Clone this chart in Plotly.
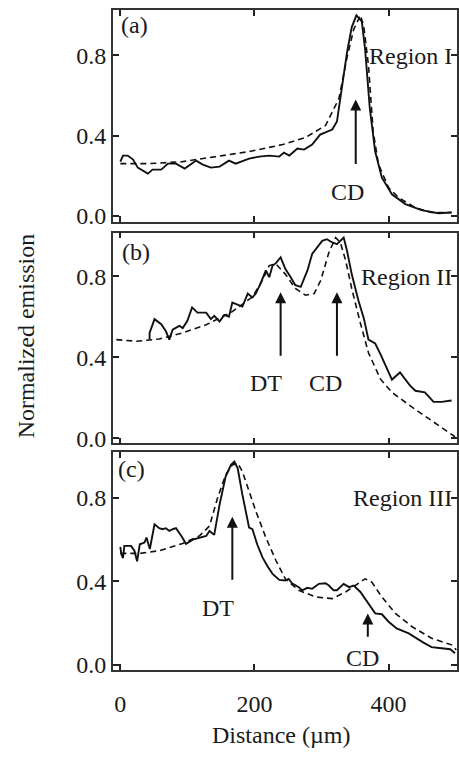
import plotly.graph_objects as go

# ---------------- data ----------------
a_solid_x = [0, 4, 11, 19, 26, 41, 48, 61, 71, 83, 96, 113, 123, 135, 148, 162, 172, 192, 207, 222, 237, 244, 252, 264, 274, 286, 298, 316, 323, 330, 338, 345, 352, 360, 365, 372, 380, 390, 405, 425, 449, 474, 494]
a_solid_y = [0.27, 0.30, 0.30, 0.28, 0.24, 0.21, 0.23, 0.23, 0.26, 0.26, 0.235, 0.275, 0.255, 0.24, 0.245, 0.275, 0.26, 0.285, 0.295, 0.30, 0.295, 0.315, 0.30, 0.335, 0.33, 0.355, 0.405, 0.43, 0.47, 0.625, 0.815, 0.94, 1.0, 0.97, 0.83, 0.535, 0.32, 0.19, 0.107, 0.058, 0.028, 0.012, 0.016]
a_dash_x = [0, 44, 93, 143, 192, 242, 276, 306, 326, 338, 348, 358, 363, 370, 377, 385, 400, 415, 440, 464, 494]
a_dash_y = [0.26, 0.26, 0.27, 0.295, 0.32, 0.355, 0.39, 0.45, 0.585, 0.79, 0.93, 1.0, 0.945, 0.75, 0.42, 0.255, 0.14, 0.09, 0.04, 0.016, 0.016]

b_solid_x = [43.6, 43.6, 51, 61, 68, 73, 78, 88, 93, 100, 107, 115, 128, 135, 140, 148, 155, 162, 167, 175, 182, 190, 197, 202, 209, 217, 222, 227, 232, 239, 246, 254, 261, 269, 274, 279, 286, 293, 301, 308, 316, 323, 328, 333, 338, 345, 355, 363, 370, 380, 388, 398, 405, 417, 425, 432, 440, 447, 454, 459, 467, 479, 494]
b_solid_y = [0.487, 0.52, 0.588, 0.563, 0.528, 0.487, 0.536, 0.555, 0.544, 0.58, 0.646, 0.62, 0.62, 0.588, 0.604, 0.576, 0.609, 0.60, 0.67, 0.66, 0.65, 0.714, 0.695, 0.714, 0.763, 0.828, 0.795, 0.852, 0.864, 0.893, 0.836, 0.795, 0.755, 0.747, 0.787, 0.828, 0.909, 0.94, 0.974, 0.982, 0.966, 0.958, 0.974, 0.99, 0.925, 0.81, 0.68, 0.593, 0.487, 0.468, 0.414, 0.34, 0.29, 0.325, 0.29, 0.26, 0.235, 0.23, 0.227, 0.21, 0.18, 0.18, 0.187]
b_dash_x = [-6, 24, 58, 93, 128, 167, 197, 212, 222, 232, 246, 261, 276, 289, 299, 311, 321, 328, 336, 345, 358, 370, 388, 405, 435, 464, 484, 499]
b_dash_y = [0.487, 0.479, 0.49, 0.52, 0.56, 0.625, 0.698, 0.78, 0.852, 0.86, 0.81, 0.739, 0.706, 0.714, 0.78, 0.917, 0.99, 0.966, 0.877, 0.739, 0.568, 0.422, 0.292, 0.227, 0.154, 0.089, 0.04, 0.008]

c_solid_x = [0, 1.5, 4, 6, 16, 21, 25, 29, 36, 39, 44, 51, 58, 63, 68, 73, 78, 83, 91, 98, 108, 118, 128, 133, 140, 148, 157, 165, 170, 175, 182, 192, 197, 204, 212, 219, 227, 237, 246, 251, 256, 266, 271, 279, 286, 296, 306, 311, 318, 323, 333, 341, 348, 358, 370, 380, 390, 400, 412, 430, 452, 464, 479, 492, 499]
c_solid_y = [0.566, 0.53, 0.512, 0.57, 0.57, 0.547, 0.496, 0.578, 0.586, 0.61, 0.555, 0.674, 0.655, 0.65, 0.655, 0.642, 0.65, 0.655, 0.618, 0.58, 0.60, 0.61, 0.618, 0.642, 0.623, 0.769, 0.903, 0.959, 0.975, 0.943, 0.816, 0.658, 0.65, 0.578, 0.515, 0.475, 0.436, 0.407, 0.404, 0.412, 0.391, 0.372, 0.357, 0.369, 0.364, 0.388, 0.391, 0.38, 0.357, 0.357, 0.388, 0.372, 0.38, 0.349, 0.293, 0.246, 0.242, 0.206, 0.174, 0.15, 0.106, 0.084, 0.079, 0.074, 0.055]
c_dash_x = [0, 29, 58, 93, 118, 133, 145, 157, 167, 175, 182, 192, 202, 217, 232, 246, 266, 291, 316, 336, 353, 365, 375, 390, 410, 435, 464, 494, 501]
c_dash_y = [0.534, 0.534, 0.547, 0.582, 0.618, 0.666, 0.80, 0.911, 0.959, 0.967, 0.927, 0.832, 0.737, 0.61, 0.50, 0.412, 0.357, 0.325, 0.317, 0.349, 0.388, 0.412, 0.396, 0.325, 0.246, 0.182, 0.127, 0.095, 0.071]

x_ticks = [0, 200, 400]
y_ticks = [0.0, 0.4, 0.8]
panel_labels = ["(a)", "(b)", "(c)"]
region_labels = ["Region I", "Region II", "Region III"]
# arrows: (panel, label, x, head_y, tail_y, label_x, label_y)
arrows = [
    (1, "CD", 351, 0.58, 0.25, 338, 0.12),
    (2, "DT", 239, 0.72, 0.40, 217, 0.275),
    (2, "CD", 323, 0.72, 0.40, 306, 0.275),
    (3, "DT", 167, 0.71, 0.40, 145, 0.27),
    (3, "CD", 369, 0.246, 0.127, 361, 0.032),
]

# ---------------- figure ----------------
W, H = 459, 759
FONT = "Liberation Serif, Times New Roman, serif"
TXT = "#1a1a1a"
FS = 24

fig = go.Figure()
panels = [
    (a_solid_x, a_solid_y, a_dash_x, a_dash_y),
    (b_solid_x, b_solid_y, b_dash_x, b_dash_y),
    (c_solid_x, c_solid_y, c_dash_x, c_dash_y),
]
for i, (sx, sy, dx, dy) in enumerate(panels, start=1):
    xa = "x" if i == 1 else f"x{i}"
    ya = "y" if i == 1 else f"y{i}"
    fig.add_trace(go.Scatter(x=dx, y=dy, mode="lines", xaxis=xa, yaxis=ya,
                             line=dict(color="#111111", width=1.6, dash="6px,4px"),
                             showlegend=False, hoverinfo="skip"))
    fig.add_trace(go.Scatter(x=sx, y=sy, mode="lines", xaxis=xa, yaxis=ya,
                             line=dict(color="#111111", width=1.9),
                             showlegend=False, hoverinfo="skip"))

def py(p):
    return 1 - p / H

ydomains = [(py(224), py(10)), (py(448), py(235)), (py(677), py(457))]
yranges = [(-0.0296, 1.027), (-0.024, 1.015), (-0.025, 1.02)]
xdomain = (113 / W, 458 / W)
xrange_ = (-11.3, 502)

axis_common = dict(showline=True, linecolor="#333333", linewidth=1.5, mirror="ticks",
                   ticks="inside", ticklen=6, tickwidth=1.5, tickcolor="#222222",
                   showgrid=False, zeroline=False,
                   tickfont=dict(family=FONT, size=FS, color=TXT))

layout = dict(width=W, height=H, margin=dict(l=0, r=0, t=0, b=0),
              paper_bgcolor="white", plot_bgcolor="white", showlegend=False)
for i in range(1, 4):
    xk = "xaxis" if i == 1 else f"xaxis{i}"
    yk = "yaxis" if i == 1 else f"yaxis{i}"
    layout[xk] = dict(axis_common, domain=list(xdomain), range=list(xrange_),
                      anchor="y" if i == 1 else f"y{i}", tickvals=x_ticks,
                      showticklabels=(i == 3), ticklabelstandoff=12)
    layout[yk] = dict(axis_common, domain=list(ydomains[i - 1]), range=list(yranges[i - 1]),
                      anchor="x" if i == 1 else f"x{i}", tickvals=y_ticks,
                      tickformat=".1f", ticklabelstandoff=0)
fig.update_layout(**layout)

anns = []
label_pos = [(135, 0.953), (136, 0.92), (132, 0.94)]
region_pos = [(412, 0.797), (408, 0.795), (404, 0.80)]
for i in range(1, 4):
    xr = "x" if i == 1 else f"x{i}"
    yr = "y" if i == 1 else f"y{i}"
    lx, ly = label_pos[i - 1]
    anns.append(dict(x=(lx - 120.7) / 0.673, y=ly, xref=xr, yref=yr, text=panel_labels[i - 1],
                     showarrow=False, font=dict(family=FONT, size=FS, color=TXT)))
    rx, ry = region_pos[i - 1]
    anns.append(dict(x=(rx - 120.7) / 0.673, y=ry, xref=xr, yref=yr, text=region_labels[i - 1],
                     showarrow=False, font=dict(family=FONT, size=FS, color=TXT)))
for (p, lab, ax_, hy, ty, lx, ly) in arrows:
    xr = "x" if p == 1 else f"x{p}"
    yr = "y" if p == 1 else f"y{p}"
    anns.append(dict(x=ax_, y=hy, ax=ax_, ay=ty, xref=xr, yref=yr, axref=xr, ayref=yr,
                     text="", showarrow=True, arrowhead=2, arrowsize=1.1, arrowwidth=2,
                     arrowcolor="#111111"))
    anns.append(dict(x=lx, y=ly, xref=xr, yref=yr, text=lab, showarrow=False,
                     font=dict(family=FONT, size=FS, color=TXT)))

anns.append(dict(x=26 / W, y=py(339), xref="paper", yref="paper", text="Normalized emission",
                 textangle=-90, showarrow=False, xanchor="center", yanchor="middle",
                 font=dict(family=FONT, size=24, color=TXT)))
anns.append(dict(x=282 / W, y=py(743), xref="paper", yref="paper", text="Distance (µm)",
                 showarrow=False, xanchor="center", yanchor="middle",
                 font=dict(family=FONT, size=FS, color=TXT)))
fig.update_layout(annotations=anns)

fig.write_html("out.html")
